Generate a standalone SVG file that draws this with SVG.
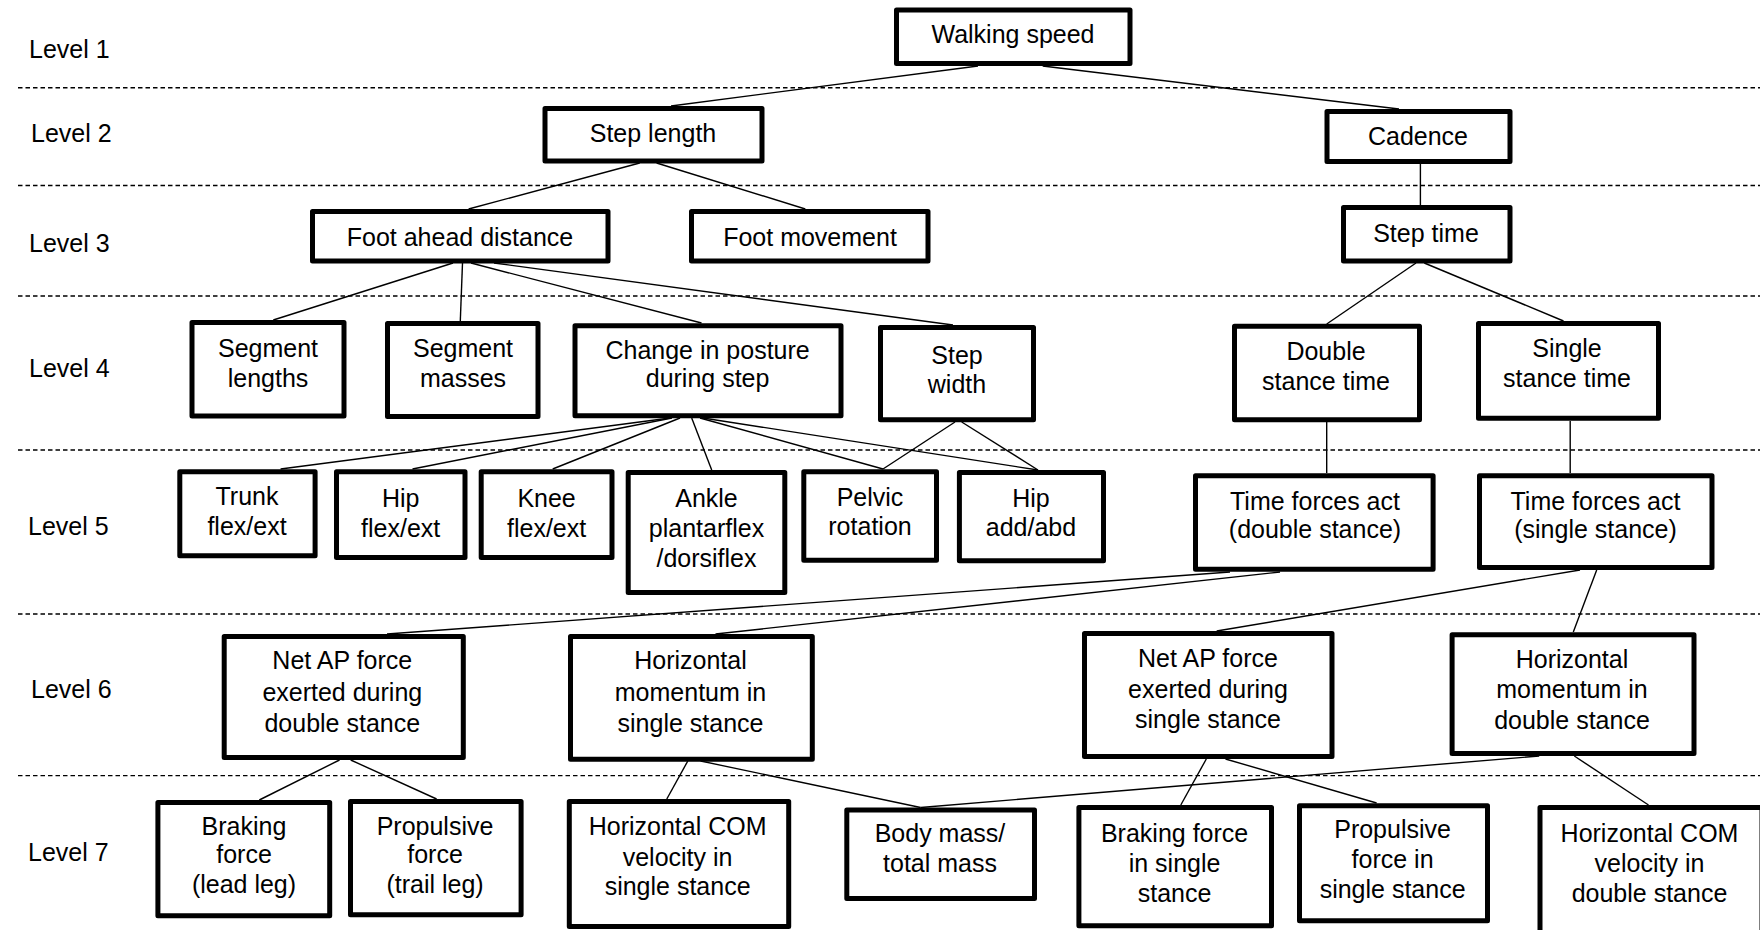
<svg xmlns="http://www.w3.org/2000/svg" width="1760" height="930" viewBox="0 0 1760 930">
  <style>
    .bg { fill: #ffffff; }
    .sep { stroke: #000; stroke-width: 1.4; stroke-dasharray: 4.5 3; fill: none; }
    .box { fill: #ffffff; stroke: #000; stroke-width: 5; stroke-linejoin: round; }
    .link { stroke: #000; stroke-width: 1.4; fill: none; }
    text { font-family: "Liberation Sans", Arial, sans-serif; font-size: 25px; fill: #000; }
    .t { text-anchor: middle; }
  </style>

  <rect class="bg" x="0" y="0" width="1760" height="930"/>

  <!-- level separators -->
  <g id="separators">
    <line class="sep" x1="18" y1="87.7" x2="1760" y2="87.7"/>
    <line class="sep" x1="18" y1="185.5" x2="1760" y2="185.5"/>
    <line class="sep" x1="18" y1="296" x2="1760" y2="296"/>
    <line class="sep" x1="18" y1="450" x2="1760" y2="450"/>
    <line class="sep" x1="18" y1="614" x2="1760" y2="614"/>
    <line class="sep" x1="18" y1="775.6" x2="1760" y2="775.6"/>
  </g>

  <!-- level labels -->
  <g id="level-labels">
    <text x="29" y="58">Level 1</text>
    <text x="31" y="141.7">Level 2</text>
    <text x="29" y="252.3">Level 3</text>
    <text x="29" y="376.7">Level 4</text>
    <text x="28" y="535">Level 5</text>
    <text x="31" y="698.3">Level 6</text>
    <text x="28" y="860.7">Level 7</text>
  </g>

  <!-- connectors -->
  <g id="connectors">
    <line class="link" x1="978" y1="66" x2="671" y2="106"/>
    <line class="link" x1="1042.7" y1="66" x2="1399" y2="109"/>
    <line class="link" x1="639.7" y1="163" x2="468.6" y2="209"/>
    <line class="link" x1="656.6" y1="163" x2="805.3" y2="209"/>
    <line class="link" x1="1420.4" y1="164" x2="1420.4" y2="205"/>
    <line class="link" x1="453" y1="263" x2="273.3" y2="320"/>
    <line class="link" x1="462.5" y1="263" x2="460.3" y2="321"/>
    <line class="link" x1="471" y1="263" x2="701.5" y2="323"/>
    <line class="link" x1="494" y1="263" x2="953" y2="325"/>
    <line class="link" x1="1416" y1="263" x2="1326.7" y2="324"/>
    <line class="link" x1="1424.3" y1="263" x2="1563.5" y2="321"/>
    <line class="link" x1="670" y1="418" x2="280.6" y2="469"/>
    <line class="link" x1="672" y1="418" x2="412.5" y2="469"/>
    <line class="link" x1="680" y1="418" x2="552.7" y2="469"/>
    <line class="link" x1="691.7" y1="418" x2="711.7" y2="470"/>
    <line class="link" x1="700" y1="418" x2="883" y2="469"/>
    <line class="link" x1="703" y1="418" x2="1038" y2="470"/>
    <line class="link" x1="955" y1="422" x2="883" y2="469"/>
    <line class="link" x1="961.7" y1="422" x2="1038" y2="470"/>
    <line class="link" x1="1326.7" y1="422" x2="1326.7" y2="473"/>
    <line class="link" x1="1570.2" y1="421" x2="1570.2" y2="473"/>
    <line class="link" x1="1230" y1="572" x2="387" y2="634"/>
    <line class="link" x1="1280" y1="572" x2="715.5" y2="634"/>
    <line class="link" x1="1580" y1="570" x2="1216.7" y2="631"/>
    <line class="link" x1="1596.7" y1="570" x2="1573.3" y2="632"/>
    <line class="link" x1="339.5" y1="760" x2="259.3" y2="800"/>
    <line class="link" x1="350.7" y1="760" x2="436.6" y2="799"/>
    <line class="link" x1="687.8" y1="761" x2="666.8" y2="799"/>
    <line class="link" x1="700.6" y1="761" x2="920.6" y2="807.5"/>
    <line class="link" x1="1206.3" y1="759" x2="1180.8" y2="805"/>
    <line class="link" x1="1225.5" y1="759" x2="1376.6" y2="803"/>
    <line class="link" x1="1539.2" y1="756" x2="920.6" y2="807.5"/>
    <line class="link" x1="1574.3" y1="756" x2="1648.5" y2="805"/>
  </g>

  <!-- Level 1 -->
  <g id="walking-speed">
    <rect class="box" x="896.5" y="10" width="233.5" height="53.5"/>
    <text class="t" x="1013" y="43">Walking speed</text>
  </g>

  <!-- Level 2 -->
  <g id="step-length">
    <rect class="box" x="545" y="108.5" width="217" height="52.5"/>
    <text class="t" x="653" y="141.7">Step length</text>
  </g>
  <g id="cadence">
    <rect class="box" x="1327" y="111.5" width="183" height="50"/>
    <text class="t" x="1418" y="145">Cadence</text>
  </g>

  <!-- Level 3 -->
  <g id="foot-ahead-distance">
    <rect class="box" x="312.5" y="211.5" width="295.5" height="49.5"/>
    <text class="t" x="460" y="245.7">Foot ahead distance</text>
  </g>
  <g id="foot-movement">
    <rect class="box" x="691.5" y="211.5" width="236.5" height="49.5"/>
    <text class="t" x="810" y="245.7">Foot movement</text>
  </g>
  <g id="step-time">
    <rect class="box" x="1343.5" y="207.5" width="166.5" height="53.5"/>
    <text class="t" x="1426" y="241.7">Step time</text>
  </g>

  <!-- Level 4 -->
  <g id="segment-lengths">
    <rect class="box" x="192" y="322.5" width="152" height="93.5"/>
    <text class="t" x="268" y="356.5">Segment</text>
    <text class="t" x="268" y="386.7">lengths</text>
  </g>
  <g id="segment-masses">
    <rect class="box" x="387.5" y="323.5" width="150.5" height="93"/>
    <text class="t" x="463" y="356.7">Segment</text>
    <text class="t" x="463" y="386.7">masses</text>
  </g>
  <g id="change-in-posture">
    <rect class="box" x="575" y="325.8" width="266" height="90"/>
    <text class="t" x="707.6" y="359">Change in posture</text>
    <text class="t" x="707.6" y="387">during step</text>
  </g>
  <g id="step-width">
    <rect class="box" x="880.5" y="327.5" width="153" height="92.3"/>
    <text class="t" x="957" y="364">Step</text>
    <text class="t" x="957" y="393.3">width</text>
  </g>
  <g id="double-stance-time">
    <rect class="box" x="1234.5" y="326.2" width="185" height="93.6"/>
    <text class="t" x="1326" y="360">Double</text>
    <text class="t" x="1326" y="390">stance time</text>
  </g>
  <g id="single-stance-time">
    <rect class="box" x="1478.5" y="323.5" width="180" height="94.7"/>
    <text class="t" x="1567" y="356.7">Single</text>
    <text class="t" x="1567" y="386.7">stance time</text>
  </g>

  <!-- Level 5 -->
  <g id="trunk-flex-ext">
    <rect class="box" x="179.8" y="471.8" width="135.3" height="84"/>
    <text class="t" x="247" y="505">Trunk</text>
    <text class="t" x="247" y="535">flex/ext</text>
  </g>
  <g id="hip-flex-ext">
    <rect class="box" x="336.5" y="471.8" width="128.5" height="85.7"/>
    <text class="t" x="400.7" y="506.7">Hip</text>
    <text class="t" x="400.7" y="536.7">flex/ext</text>
  </g>
  <g id="knee-flex-ext">
    <rect class="box" x="481.2" y="471.8" width="130.8" height="85.7"/>
    <text class="t" x="546.6" y="506.7">Knee</text>
    <text class="t" x="546.6" y="536.7">flex/ext</text>
  </g>
  <g id="ankle">
    <rect class="box" x="628.2" y="472.5" width="156.6" height="120"/>
    <text class="t" x="706.5" y="506.7">Ankle</text>
    <text class="t" x="706.5" y="536.7">plantarflex</text>
    <text class="t" x="706.5" y="566.7">/dorsiflex</text>
  </g>
  <g id="pelvic-rotation">
    <rect class="box" x="803.8" y="471.8" width="132.7" height="88.4"/>
    <text class="t" x="870" y="506">Pelvic</text>
    <text class="t" x="870" y="535">rotation</text>
  </g>
  <g id="hip-add-abd">
    <rect class="box" x="959.4" y="472.5" width="144.1" height="88.3"/>
    <text class="t" x="1031" y="506.7">Hip</text>
    <text class="t" x="1031" y="536">add/abd</text>
  </g>
  <g id="time-forces-double">
    <rect class="box" x="1195.5" y="475.8" width="237.6" height="93.4"/>
    <text class="t" x="1315" y="510">Time forces act</text>
    <text class="t" x="1315" y="538.3">(double stance)</text>
  </g>
  <g id="time-forces-single">
    <rect class="box" x="1479.5" y="475.8" width="232.5" height="91.7"/>
    <text class="t" x="1595.5" y="510">Time forces act</text>
    <text class="t" x="1595.5" y="538.3">(single stance)</text>
  </g>

  <!-- Level 6 -->
  <g id="net-ap-double">
    <rect class="box" x="224.2" y="636.5" width="239.1" height="121"/>
    <text class="t" x="342.3" y="669.3">Net AP force</text>
    <text class="t" x="342.3" y="700.7">exerted during</text>
    <text class="t" x="342.3" y="731.7">double stance</text>
  </g>
  <g id="momentum-single">
    <rect class="box" x="570.5" y="636.5" width="241.8" height="122.7"/>
    <text class="t" x="690.5" y="669.3">Horizontal</text>
    <text class="t" x="690.5" y="700.7">momentum in</text>
    <text class="t" x="690.5" y="731.7">single stance</text>
  </g>
  <g id="net-ap-single">
    <rect class="box" x="1084.5" y="633.5" width="247.5" height="123"/>
    <text class="t" x="1208" y="667.3">Net AP force</text>
    <text class="t" x="1208" y="698.3">exerted during</text>
    <text class="t" x="1208" y="728.3">single stance</text>
  </g>
  <g id="momentum-double">
    <rect class="box" x="1452.1" y="634.8" width="241.9" height="118.7"/>
    <text class="t" x="1572" y="668.3">Horizontal</text>
    <text class="t" x="1572" y="698.3">momentum in</text>
    <text class="t" x="1572" y="729">double stance</text>
  </g>

  <!-- Level 7 -->
  <g id="braking-lead">
    <rect class="box" x="157.9" y="802.5" width="171.8" height="113.3"/>
    <text class="t" x="244" y="835">Braking</text>
    <text class="t" x="244" y="863.3">force</text>
    <text class="t" x="244" y="893.3">(lead leg)</text>
  </g>
  <g id="propulsive-trail">
    <rect class="box" x="350.5" y="801.5" width="170.6" height="113.3"/>
    <text class="t" x="435" y="835">Propulsive</text>
    <text class="t" x="435" y="863.3">force</text>
    <text class="t" x="435" y="893.3">(trail leg)</text>
  </g>
  <g id="com-velocity-single">
    <rect class="box" x="569.3" y="801.5" width="219.4" height="125"/>
    <text class="t" x="677.6" y="835">Horizontal COM</text>
    <text class="t" x="677.6" y="865.7">velocity in</text>
    <text class="t" x="677.6" y="895">single stance</text>
  </g>
  <g id="body-mass">
    <rect class="box" x="846.8" y="810" width="187.7" height="88.5"/>
    <text class="t" x="940" y="841.7">Body mass/</text>
    <text class="t" x="940" y="871.7">total mass</text>
  </g>
  <g id="braking-single">
    <rect class="box" x="1078.9" y="807.5" width="192.6" height="118.3"/>
    <text class="t" x="1174.6" y="841.7">Braking force</text>
    <text class="t" x="1174.6" y="871.7">in single</text>
    <text class="t" x="1174.6" y="901.7">stance</text>
  </g>
  <g id="propulsive-single">
    <rect class="box" x="1299.5" y="805.8" width="188" height="115"/>
    <text class="t" x="1392.6" y="838.3">Propulsive</text>
    <text class="t" x="1392.6" y="868.3">force in</text>
    <text class="t" x="1392.6" y="898.3">single stance</text>
  </g>
  <g id="com-velocity-double">
    <rect class="box" x="1540" y="807.5" width="222" height="130"/>
    <text class="t" x="1649.5" y="841.7">Horizontal COM</text>
    <text class="t" x="1649.5" y="871.7">velocity in</text>
    <text class="t" x="1649.5" y="901.7">double stance</text>
  </g>
</svg>
